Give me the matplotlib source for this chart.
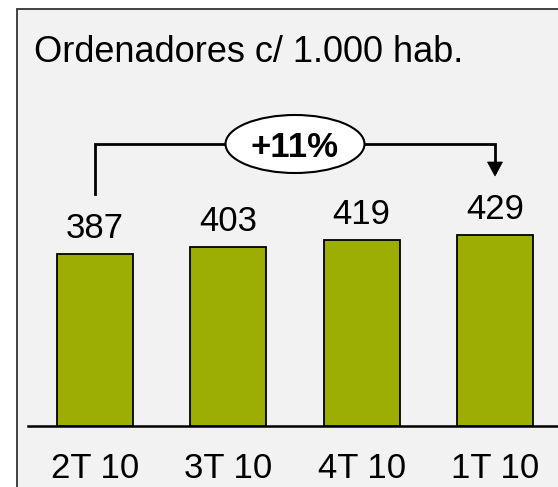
import matplotlib
matplotlib.use("Agg")
import matplotlib.pyplot as plt
from matplotlib.patches import Rectangle, Ellipse, Polygon

plt.rcParams['font.family'] = ['Liberation Sans', 'DejaVu Sans']

# ---- data ----
categories = ["2T 10", "3T 10", "4T 10", "1T 10"]
values = [387, 403, 419, 429]
title = "Ordenadores c/ 1.000 hab."
growth_label = "+11%"

bar_color = "#9CAE04"
bg_color = "#F2F2F2"

W, H = 558, 487
fig = plt.figure(figsize=(W / 100, H / 100), dpi=100)
fig.patch.set_facecolor("white")

def fx(px):
    return px / W

def fy(py):
    return (H - py) / H

# framed panel background
fig.patches.append(Rectangle((fx(17), fy(600)), fx(700), fy(8.5) - fy(600),
                             transform=fig.transFigure, facecolor=bg_color,
                             edgecolor="#333333", linewidth=1.3, zorder=-10))

# axes: baseline at y=426px, from x=28 to right edge
ax = fig.add_axes([fx(28), fy(426), fx(558) - fx(28), fy(8) - fy(426)])
ax.set_facecolor("none")
ax.set_zorder(2)
px_per_x = 133.33
px_per_y = 0.445
ax.set_xlim((28 - 95) / px_per_x, (558 - 95) / px_per_x)
ax.set_ylim(0, (426 - 8) / px_per_y)

xs = list(range(len(values)))
ax.bar(xs, values, width=0.57, color=bar_color, edgecolor="black", linewidth=1.3, zorder=3)

for s in ["top", "right", "left"]:
    ax.spines[s].set_visible(False)
ax.spines["bottom"].set_linewidth(1.8)
ax.spines["bottom"].set_color("black")
ax.set_yticks([])
ax.set_xticks(xs)
ax.set_xticklabels(categories, fontsize=25)
ax.tick_params(axis="x", length=0, pad=19)

for x, v in zip(xs, values):
    ax.annotate(str(v), (x, v), xytext=(0, 11.5), textcoords="offset points",
                ha="center", va="baseline", fontsize=25)

# growth bracket
top_y = (426 - 144) / px_per_y
left_bottom = (426 - 194) / px_per_y
arrow_tip = (426 - 176) / px_per_y
ax.plot([xs[0], xs[0], xs[-1], xs[-1]], [left_bottom, top_y, top_y, arrow_tip + 10],
        color="black", lw=2, solid_joinstyle="miter", zorder=4, clip_on=False)
ah_w = 7.5 / px_per_x
ah_h = 14 / px_per_y
ax.add_patch(Polygon([[xs[-1] - ah_w, arrow_tip + ah_h], [xs[-1] + ah_w, arrow_tip + ah_h],
                      [xs[-1], arrow_tip]], closed=True, facecolor="black",
                     edgecolor="black", lw=0.5, zorder=5, clip_on=False))
mid = (xs[0] + xs[-1]) / 2
ax.add_patch(Ellipse((mid, top_y), 139 / px_per_x, 58 / px_per_y, facecolor="white",
                     edgecolor="black", lw=1.5, zorder=6, clip_on=False))
ax.text(mid, top_y, growth_label, ha="center", va="center_baseline", fontsize=25,
        fontweight="bold", zorder=7)

fig.text(fx(34), fy(62), title, ha="left", va="baseline", fontsize=26)

fig.savefig("out.png", dpi=100, facecolor=fig.get_facecolor())
